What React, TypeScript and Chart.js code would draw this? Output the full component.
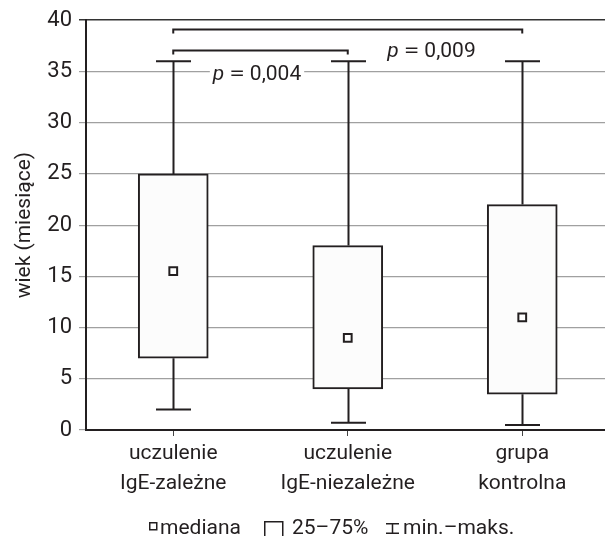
import React, { useEffect, useRef } from 'react';
import { Chart, registerables } from 'chart.js';

Chart.register(...registerables);

// ---- data ----
const categories: string[][] = [
  ['uczulenie', 'IgE-zależne'],
  ['uczulenie', 'IgE-niezależne'],
  ['grupa', 'kontrolna'],
];
const minValues = [2, 0.7, 0.5];
const q1Values = [7, 4, 3.5];
const medianValues = [15.5, 9, 11];
const q3Values = [25, 18, 22];
const maxValues = [36, 36, 36];
const yMin = 0;
const yMax = 40;
const yStep = 5;
const yTitle = 'wiek (miesiące)';
// significance comparisons: category indices, p text
const compFrom = [0, 0];
const compTo = [1, 2];
const compP = ['0,004', '0,009'];
// annotation placement (in data / category units)
const compBracketY = [37.1, 39.1];
const compLabelAt = [0.48, 1.48];
const compLabelY = [34.15, 36.4];
const legendLabels = ['mediana', '25–75%', 'min.–maks.'];

const FONT = 'Roboto';
const WEIGHT = '400';
const INK = '#231f20';

const boxPlugin = {
  id: 'boxExtras',
  beforeDatasetsDraw(chart: any) {
    const { ctx, scales } = chart;
    const xs = scales.x;
    const ys = scales.y;
    ctx.save();
    ctx.strokeStyle = INK;
    ctx.lineWidth = 2;
    const cap = 17.5;
    categories.forEach((_, i) => {
      const x = Math.round(xs.getPixelForValue(i)) + 0.5;
      const yMx = ys.getPixelForValue(maxValues[i]);
      const yQ3 = ys.getPixelForValue(q3Values[i]);
      const yQ1 = ys.getPixelForValue(q1Values[i]);
      const yMn = ys.getPixelForValue(minValues[i]);
      ctx.beginPath();
      ctx.moveTo(x, yMx);
      ctx.lineTo(x, yQ3);
      ctx.moveTo(x, yQ1);
      ctx.lineTo(x, yMn);
      ctx.moveTo(x - cap, yMx);
      ctx.lineTo(x + cap, yMx);
      ctx.moveTo(x - cap, yMn);
      ctx.lineTo(x + cap, yMn);
      ctx.stroke();
    });
    ctx.restore();
  },
  afterDatasetsDraw(chart: any) {
    const { ctx, scales } = chart;
    const xs = scales.x;
    const ys = scales.y;
    ctx.save();
    ctx.strokeStyle = INK;
    ctx.lineWidth = 2;
    compFrom.forEach((f, k) => {
      const x1 = xs.getPixelForValue(f);
      const x2 = xs.getPixelForValue(compTo[k]);
      const y = Math.round(ys.getPixelForValue(compBracketY[k])) + 0.5;
      ctx.beginPath();
      ctx.moveTo(x1, y + 4);
      ctx.lineTo(x1, y);
      ctx.lineTo(x2, y);
      ctx.lineTo(x2, y + 4);
      ctx.stroke();

      // p-value label
      const cx = xs.getPixelForValue(compLabelAt[k]);
      const by = ys.getPixelForValue(compLabelY[k]);
      const italic = `italic ${WEIGHT} 21px ${FONT}`;
      const normal = `${WEIGHT} 21px ${FONT}`;
      ctx.font = italic;
      const wp = ctx.measureText('p').width;
      ctx.font = normal;
      const weq = ctx.measureText('=').width;
      const wn = ctx.measureText(compP[k]).width;
      const gap = 5;
      const total = wp + gap + weq * 1.35 + gap + wn;
      let x = cx - total / 2;
      ctx.fillStyle = '#ffffff';
      ctx.fillRect(x - 3, by - 17, total + 6, 22);
      ctx.fillStyle = INK;
      ctx.textBaseline = 'alphabetic';
      ctx.textAlign = 'left';
      ctx.font = italic;
      ctx.fillText('p', x, by);
      x += wp + gap;
      ctx.font = normal;
      ctx.save();
      ctx.translate(x, by);
      ctx.scale(1.35, 1);
      ctx.fillText('=', 0, 0);
      ctx.restore();
      x += weq * 1.35 + gap;
      ctx.fillText(compP[k], x, by);
    });
    ctx.restore();
  },
  afterDraw(chart: any) {
    const { ctx } = chart;
    ctx.save();
    ctx.strokeStyle = INK;
    ctx.fillStyle = INK;
    ctx.lineWidth = 1.5;
    ctx.font = `${WEIGHT} 21px ${FONT}`;
    ctx.textBaseline = 'alphabetic';
    ctx.textAlign = 'left';
    const base = 534;
    // median icon
    ctx.strokeRect(149.75, 522.75, 7, 7);
    ctx.fillText(legendLabels[0], 160, base);
    // box icon
    ctx.strokeRect(264.75, 521.75, 18, 20);
    ctx.fillText(legendLabels[1], 292, base);
    // whisker icon
    ctx.beginPath();
    ctx.moveTo(386, 523.75);
    ctx.lineTo(399, 523.75);
    ctx.moveTo(392.5, 523.75);
    ctx.lineTo(392.5, 533.25);
    ctx.moveTo(386, 533.25);
    ctx.lineTo(399, 533.25);
    ctx.stroke();
    ctx.fillText(legendLabels[2], 403, base);
    ctx.restore();
  },
};

export default function App() {
  const ref = useRef<HTMLCanvasElement | null>(null);

  useEffect(() => {
    if (!ref.current) return;
    const yTickValues: number[] = [];
    for (let v = yMin; v <= yMax; v += yStep) yTickValues.push(v);

    const chart = new Chart(ref.current, {
      type: 'bar',
      data: {
        labels: categories as any,
        datasets: [
          {
            type: 'line',
            data: medianValues,
            showLine: false,
            pointStyle: 'rect',
            pointRadius: 5.5,
            pointHoverRadius: 5.5,
            pointBackgroundColor: '#ffffff',
            pointBorderColor: INK,
            pointBorderWidth: 2,
            order: 0,
          } as any,
          {
            type: 'bar',
            data: categories.map((_, i) => [q1Values[i], q3Values[i]]) as any,
            backgroundColor: '#fcfcfc',
            borderColor: INK,
            borderWidth: 2,
            borderSkipped: false,
            barThickness: 70,
            order: 1,
          } as any,
        ],
      },
      options: {
        responsive: false,
        animation: false,
        events: [],
        layout: { padding: { top: 20, left: 0, right: 0, bottom: 0 } },
        plugins: { legend: { display: false }, tooltip: { enabled: false } },
        scales: {
          x: {
            type: 'category',
            offset: true,
            grid: {
              offset: false,
              drawOnChartArea: false,
              drawTicks: true,
              tickLength: 6,
              color: '#444',
              lineWidth: 1,
            },
            border: { color: INK, width: 2 },
            ticks: {
              color: INK,
              font: { family: FONT, size: 21, weight: WEIGHT, lineHeight: 1.42 },
              padding: 3,
              maxRotation: 0,
              autoSkip: false,
            },
            afterFit(scale: any) {
              scale.height = 106;
            },
          },
          y: {
            min: yMin,
            max: yMax,
            afterBuildTicks(scale: any) {
              scale.ticks = yTickValues.map((v) => ({ value: v }));
            },
            grid: {
              color: (c: any) => (c.tick && c.tick.value === yMax ? '#333' : '#a0a0a0'),
              lineWidth: (c: any) => (c.tick && c.tick.value === yMax ? 1.5 : 1.2),
              tickColor: (c: any) => (c.tick && c.tick.value === yMax ? '#333' : '#a0a0a0'),
              tickLength: 7,
            },
            border: { color: INK, width: 2 },
            ticks: {
              color: INK,
              font: { family: FONT, size: 22, weight: WEIGHT },
              padding: 7,
            },
            title: {
              display: true,
              text: yTitle,
              color: INK,
              font: { family: FONT, size: 21, weight: WEIGHT },
              padding: { top: 12, bottom: 0 },
            },
            afterFit(scale: any) {
              scale.width = 86;
            },
          },
        },
      },
      plugins: [boxPlugin],
    });
    return () => chart.destroy();
  }, []);

  return (
    <div
      style={{
        position: 'fixed',
        left: 0,
        top: 0,
        width: 605,
        height: 536,
        overflow: 'hidden',
        background: '#fff',
      }}
    >
      <canvas ref={ref} width={617} height={536} style={{ width: 617, height: 536, display: 'block' }} />
    </div>
  );
}
